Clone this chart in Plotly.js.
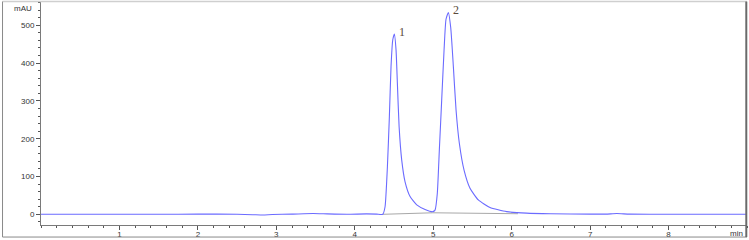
<!DOCTYPE html>
<html>
<head>
<meta charset="utf-8">
<script src="https://cdn.plot.ly/plotly-3.0.1.min.js"></script>
<style>html,body{margin:0;padding:0;background:#fff;}#chart{width:749px;height:240px;}</style>
</head>
<body>
<div id="chart"></div>
<script>
// Chromatogram signal (time in min, signal in mAU)
const timeMin = [0, 0.5, 1.0, 1.5, 2.0, 2.5, 2.7, 2.83, 2.95, 3.2, 3.47, 3.65, 3.9, 4.15, 4.28, 4.357,
  4.386, 4.416, 4.441, 4.462, 4.484, 4.505, 4.526, 4.543, 4.565, 4.598, 4.641, 4.705, 4.79, 4.896, 4.994,
  5.023, 5.052, 5.078, 5.108, 5.138, 5.163, 5.193, 5.223, 5.257, 5.291, 5.333, 5.393, 5.469, 5.575, 5.724, 5.936,
  6.19, 6.5, 7.0, 7.2, 7.34, 7.5, 8.0, 8.5, 9.0];
const signal = [0, 0, 0, 0, 0.5, 0, -1, -2, -0.5, 0.5, 2, 1, 0, 1, 0.5, 0,
  20, 126, 258, 390, 461, 477, 435, 347, 232, 144, 86, 47, 25, 13, 7,
  11, 55, 170, 302, 434, 516, 534, 494, 390, 276, 188, 117, 69, 38, 18, 7,
  3, 1.5, 0.5, 0.5, 2, 0.5, 0, 0, 0];
// Integration baseline drawn under the peaks
const baseTime = [4.357, 4.994, 6.08];
const baseSignal = [0, 4, 1.5];
// Peak labels
const peakNames = ["1", "2"];
const peakTimes = [4.505, 5.193];
const peakHeights = [477, 534];

const traces = [
  {x: baseTime, y: baseSignal, type: 'scatter', mode: 'lines',
   line: {color: '#a8a8a8', width: 1}, hoverinfo: 'skip'},
  {x: timeMin, y: signal, type: 'scatter', mode: 'lines',
   line: {color: '#6b6bff', width: 1.1, shape: 'spline', smoothing: 0.5}}
];

const axisFont = {family: 'Liberation Sans, Arial, sans-serif', size: 8, color: '#333'};
const annotations = peakNames.map((n, i) => ({
  x: peakTimes[i], y: peakHeights[i], xref: 'x', yref: 'y', text: n, showarrow: false,
  xanchor: 'left', yanchor: 'middle', xshift: 3, yshift: 2,
  font: {family: 'Liberation Serif, DejaVu Serif, serif', size: 12, color: '#5a4a3a'}
}));
annotations.push({x: -0.0099, y: 1.0, xref: 'paper', yref: 'paper', text: 'mAU', showarrow: false,
  xanchor: 'right', yanchor: 'top', yshift: 0, font: axisFont});
annotations.push({x: 1.0, y: 0, xref: 'paper', yref: 'paper', text: 'min', showarrow: false,
  xanchor: 'right', yanchor: 'top', yshift: -2, xshift: -2, font: axisFont});

const shapes = [
  {type: 'line', xref: 'paper', yref: 'paper', x0: -0.0545, x1: 1.0, y0: 1.002, y1: 1.002, line: {color: '#cfcfcf', width: 1.5}},
  {type: 'line', xref: 'paper', yref: 'paper', x0: -0.0545, x1: -0.0545, y0: -0.054, y1: 1.002, line: {color: '#8a8a8a', width: 1}},
  {type: 'line', xref: 'paper', yref: 'paper', x0: -0.0545, x1: 1.0, y0: -0.054, y1: -0.054, line: {color: '#8a8a8a', width: 1}},
  {type: 'line', xref: 'paper', yref: 'paper', x0: 0.999, x1: 0.999, y0: -0.054, y1: 1.002, line: {color: '#6a6a6a', width: 2}}
];

const layout = {
  width: 749, height: 240,
  margin: {l: 41, r: 2, t: 2, b: 15, pad: 0},
  paper_bgcolor: '#fff', plot_bgcolor: '#fff',
  showlegend: false,
  xaxis: {range: [0, 9], showgrid: false, zeroline: false, showline: true, linecolor: '#7a7a7a', linewidth: 1,
    ticks: 'outside', ticklen: 4, tickcolor: '#555', tickwidth: 1,
    tickvals: [1, 2, 3, 4, 5, 6, 7, 8], ticktext: ['1', '2', '3', '4', '5', '6', '7', '8'],
    ticklabelstandoff: -3,
    minor: {dtick: 0.2, tick0: 0, ticks: 'outside', ticklen: 2, tickcolor: '#555', showgrid: false},
    tickfont: axisFont, fixedrange: true},
  yaxis: {range: [-28.3, 561.6], showgrid: false, zeroline: false, showline: true, linecolor: '#7a7a7a', linewidth: 1,
    ticks: 'outside', ticklen: 4, tickcolor: '#555', tickwidth: 1,
    tickvals: [0, 100, 200, 300, 400, 500],
    minor: {dtick: 20, tick0: 0, ticks: 'outside', ticklen: 2, tickcolor: '#555', showgrid: false},
    tickfont: axisFont, fixedrange: true},
  annotations: annotations,
  shapes: shapes
};

Plotly.newPlot('chart', traces, layout, {staticPlot: true, displayModeBar: false});
</script>
</body>
</html>
